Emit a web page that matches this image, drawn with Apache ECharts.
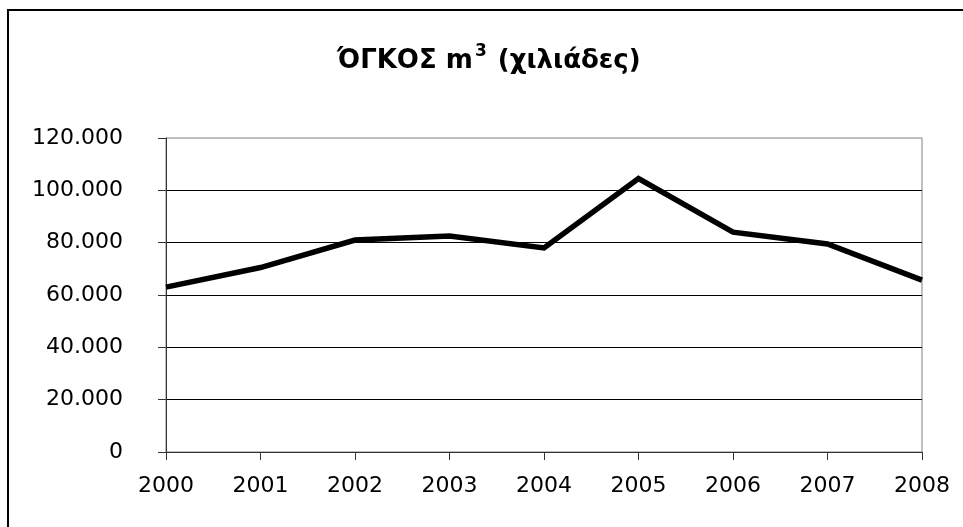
<!DOCTYPE html>
<html>
<head>
<meta charset="utf-8">
<script src="https://cdn.jsdelivr.net/npm/echarts@6/dist/echarts.min.js"></script>
<style>
html,body{margin:0;padding:0;background:#fff;}
#chart{width:963px;height:527px;}
</style>
</head>
<body>
<div id="chart"></div>
<script>
const years = ['2000','2001','2002','2003','2004','2005','2006','2007','2008'];
const volumes = [63000, 70500, 81000, 82500, 78000, 104500, 84000, 79500, 65700];
const yTicks = [0, 20000, 40000, 60000, 80000, 100000, 120000];
const titleText = 'ΌΓΚΟΣ m';
const titleSup = '3';
const titleRest = ' (χιλιάδες)';

const font = '"DejaVu Sans", "Liberation Sans", Arial, sans-serif';
const chart = echarts.init(document.getElementById('chart'), null, {renderer: 'canvas'});

function fmt(v) {
  return String(v).replace(/\B(?=(\d{3})+(?!\d))/g, '.');
}

chart.setOption({
  animation: false,
  backgroundColor: '#fff',
  title: {
    text: titleText + '{sup|' + titleSup + '}' + titleRest,
    left: 332,
    top: 38,
    textStyle: {
      fontFamily: font,
      fontSize: 26,
      fontWeight: 'bold',
      color: '#000',
      rich: {
        sup: {fontFamily: font, fontSize: 17, fontWeight: 'bold', color: '#000', verticalAlign: 'top', padding: [0, 2, 20, 2]}
      }
    }
  },
  graphic: [{
    type: 'rect',
    shape: {x: 8, y: 10, width: 1000, height: 600},
    style: {fill: 'none', stroke: '#000', lineWidth: 2},
    silent: true
  }],
  grid: {
    left: 166, right: 41, top: 138, bottom: 75,
    show: true, borderColor: '#808080', borderWidth: 1, backgroundColor: 'transparent'
  },
  xAxis: {
    type: 'category',
    data: years,
    boundaryGap: false,
    axisLine: {lineStyle: {color: '#333', width: 1}},
    axisTick: {show: true, length: 8, lineStyle: {color: '#333'}},
    axisLabel: {fontFamily: font, fontSize: 22, color: '#000', margin: 23},
    splitLine: {show: false}
  },
  yAxis: {
    type: 'value',
    min: 0, max: yTicks[yTicks.length - 1], interval: yTicks[1] - yTicks[0],
    axisLine: {show: true, lineStyle: {color: '#333', width: 1}},
    axisTick: {show: true, length: 8, lineStyle: {color: '#333'}},
    axisLabel: {fontFamily: font, fontSize: 22, color: '#000', margin: 43, formatter: fmt},
    splitLine: {show: true, showMaxLine: false, lineStyle: {color: '#000', width: 1}}
  },
  series: [{
    type: 'line',
    data: volumes,
    showSymbol: false,
    symbol: 'none',
    lineStyle: {color: '#000', width: 5.5, join: 'miter'},
    itemStyle: {color: '#000'}
  }]
});
</script>
</body>
</html>
